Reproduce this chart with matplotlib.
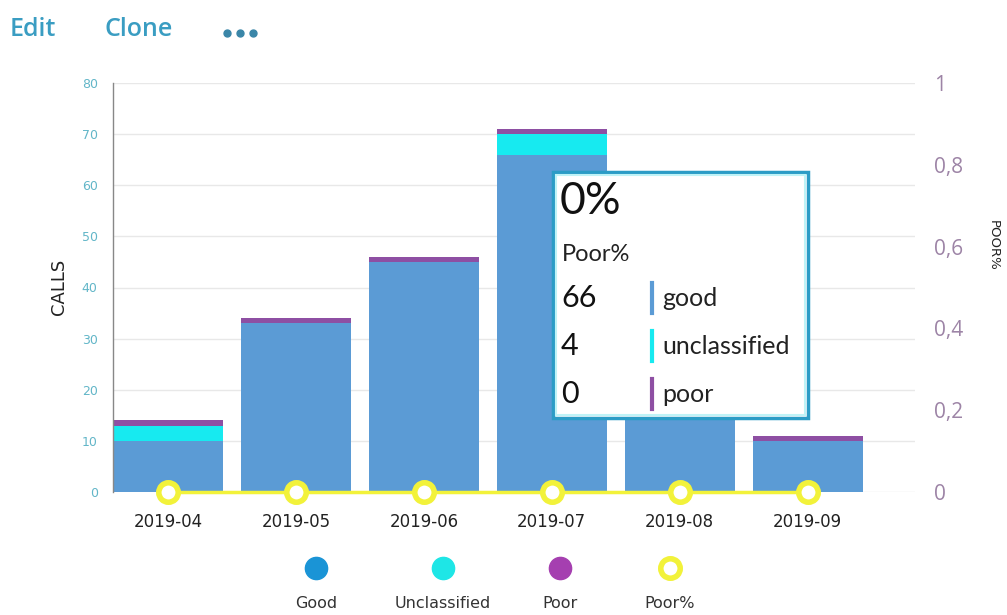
import matplotlib
matplotlib.use("Agg")
import matplotlib.pyplot as plt
from matplotlib.patches import Rectangle
from matplotlib.lines import Line2D

months = ["2019-04", "2019-05", "2019-06", "2019-07", "2019-08", "2019-09"]
good = [10, 33, 45, 66, 40, 10]
unclassified = [3, 0, 0, 4, 0, 0]
poor = [1, 1, 1, 1, 1, 1]
poor_pct = [0, 0, 0, 0, 0, 0]

left_ticks = [0, 10, 20, 30, 40, 50, 60, 70, 80]
right_ticks = [0, 0.2, 0.4, 0.6, 0.8, 1]
right_labels = ["0", "0,2", "0,4", "0,6", "0,8", "1"]

tooltip_pct = "0%"
tooltip_title = "Poor%"
tooltip_rows = [("66", "good"), ("4", "unclassified"), ("0", "poor")]

c_good = "#5b9bd5"
c_uncl = "#17eaf0"
c_poor = "#8e4fa3"
c_pct = "#f2f23a"
leg_good = "#1a94d6"
leg_uncl = "#1ee6e6"
leg_poor = "#a53fb0"

W, H = 1007, 615
fig = plt.figure(figsize=(W / 100, H / 100), dpi=100)
fig.patch.set_facecolor("white")

ax = fig.add_axes([113 / W, 1 - 492 / H, (915 - 113) / W, (492 - 83) / H])
x = list(range(len(months)))
bw = 0.86
ax.bar(x, good, width=bw, color=c_good, zorder=2)
bot2 = [g for g in good]
ax.bar(x, unclassified, width=bw, bottom=bot2, color=c_uncl, zorder=2)
bot3 = [g + u for g, u in zip(good, unclassified)]
ax.bar(x, poor, width=bw, bottom=bot3, color=c_poor, zorder=2)

ax.set_xlim(-0.43, 5.84)
ax.set_ylim(0, 80)
ax.set_yticks(left_ticks)
ax.set_yticklabels([str(t) for t in left_ticks], fontsize=9, color="#62b6c8",
                   family="DejaVu Sans")
ax.tick_params(axis="y", length=0, pad=11)
ax.set_xticks(x)
ax.set_xticklabels(months, fontsize=12, color="#222222", family="DejaVu Sans")
ax.tick_params(axis="x", length=0, pad=15)
ax.grid(axis="y", color="#e8e8e8", linewidth=1, zorder=0)
for s in ["top", "right", "bottom"]:
    ax.spines[s].set_visible(False)
ax.spines["left"].set_color("#888888")
ax.spines["left"].set_linewidth(1)
ax.set_ylabel("CALLS", fontsize=13, color="#222222", family="DejaVu Sans", va="center")
ax.yaxis.set_label_coords((59 - 113) / 802, (492 - 287) / 409)

ax2 = ax.twinx()
ax2.set_ylim(0, 1)
ax2.plot(x, poor_pct, color=c_pct, linewidth=2.5, marker="o", markersize=14,
         markerfacecolor="white", markeredgecolor=c_pct, markeredgewidth=4,
         zorder=5, clip_on=False)
ax2.set_yticks(right_ticks)
ax2.set_yticklabels(right_labels, fontsize=15, color="#9d84a6", family="Open Sans")
ax2.tick_params(axis="y", length=0, pad=14)
for s in ["top", "right", "bottom", "left"]:
    ax2.spines[s].set_visible(False)
ax2.set_ylabel("POOR%", fontsize=9.5, color="#222222", rotation=-90,
               family="DejaVu Sans", va="center")
ax2.yaxis.set_label_coords((993 - 113) / 802, (492 - 245) / 409)

# header
fig.text(10 / W, 1 - 29 / H, "Edit", fontsize=18, color="#3a9dc2", family="Open Sans",
         fontweight="semibold", va="center")
fig.text(104 / W, 1 - 29 / H, "Clone", fontsize=18, color="#3a9dc2", family="Open Sans",
         fontweight="semibold", va="center")
for dx in [227, 240, 253]:
    fig.add_artist(Line2D([dx / W], [1 - 33 / H], marker="o", markersize=5,
                          markerfacecolor="#3a86a8", markeredgecolor="#3a86a8",
                          linestyle="none"))

# legend
leg_x = [316, 443, 560, 670]
leg_lbl = ["Good", "Unclassified", "Poor", "Poor%"]
leg_col = [leg_good, leg_uncl, leg_poor, None]
for lx, lbl, col in zip(leg_x, leg_lbl, leg_col):
    if col is None:
        fig.add_artist(Line2D([lx / W], [1 - 568 / H], marker="o", markersize=14,
                              markerfacecolor="white", markeredgecolor=c_pct,
                              markeredgewidth=4, linestyle="none"))
    else:
        fig.add_artist(Line2D([lx / W], [1 - 568 / H], marker="o", markersize=16,
                              markerfacecolor=col, markeredgecolor=col,
                              linestyle="none"))
    fig.text(lx / W, 1 - 603 / H, lbl, fontsize=11.5, color="#333333",
             ha="center", va="center", family="DejaVu Sans")

# tooltip
bx0, by0, bx1, by1 = 553, 172, 808, 418
fig.add_artist(Rectangle((bx0 / W, 1 - by1 / H), (bx1 - bx0) / W, (by1 - by0) / H,
                         transform=fig.transFigure, facecolor="white",
                         edgecolor="#2b9cc6", linewidth=2.5, zorder=10))
fig.add_artist(Rectangle(((bx0 + 3) / W, 1 - (by1 - 3) / H), (bx1 - bx0 - 6) / W,
                         (by1 - by0 - 6) / H, transform=fig.transFigure,
                         facecolor="none", edgecolor="#bff3f7", linewidth=1.5,
                         zorder=11))
fig.text(560 / W, 1 - 202 / H, tooltip_pct, fontsize=32, color="#111111",
         family="Lato", va="center", zorder=12)
fig.text(562 / W, 1 - 255 / H, tooltip_title, fontsize=17, color="#222222",
         family="Lato", va="center", zorder=12)
row_y = [298, 346, 394]
row_col = [c_good, c_uncl, c_poor]
for (num, name), ry, rc in zip(tooltip_rows, row_y, row_col):
    fig.text(561 / W, 1 - ry / H, num, fontsize=22, color="#111111",
             family="Lato", va="center", zorder=12)
    fig.add_artist(Line2D([652 / W, 652 / W], [1 - (ry - 15) / H, 1 - (ry + 15) / H],
                          color=rc, linewidth=3, zorder=12))
    fig.text(662 / W, 1 - ry / H, name, fontsize=18, color="#222222",
             family="Lato", va="center", zorder=12)

fig.savefig("out.png", dpi=100, facecolor="white")
